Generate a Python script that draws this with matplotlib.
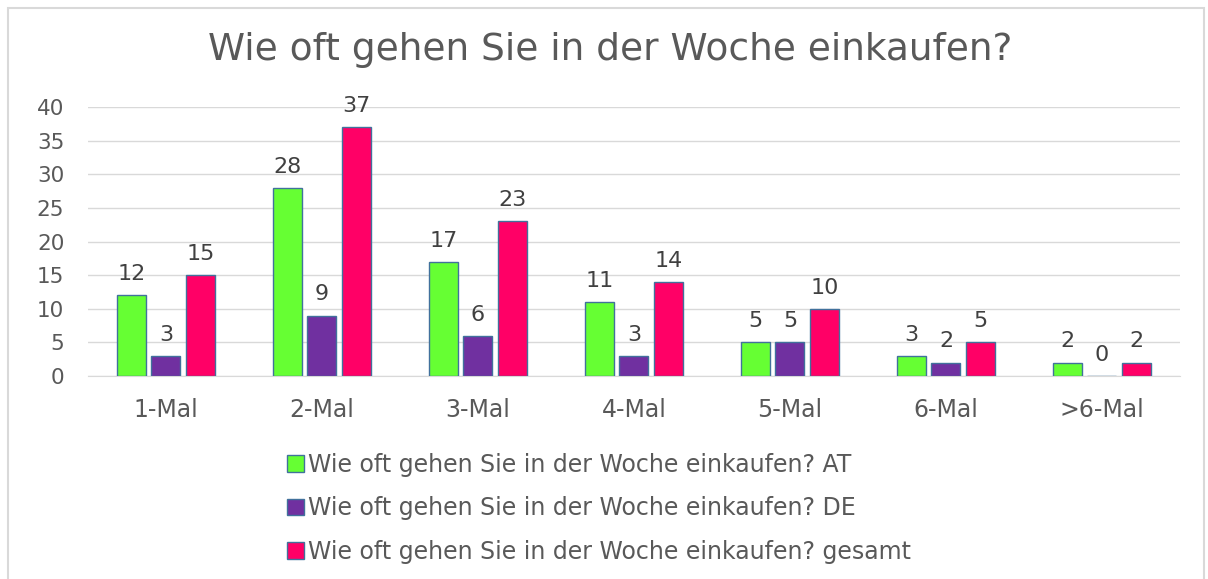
import matplotlib.pyplot as plt
import matplotlib.patches as mpatches
import numpy as np

plt.rcParams['font.family'] = ['DejaVu Sans']

kategorien = ['1-Mal', '2-Mal', '3-Mal', '4-Mal', '5-Mal', '6-Mal', '>6-Mal']
at = [12, 28, 17, 11, 5, 3, 2]
de = [3, 9, 6, 3, 5, 2, 0]
gesamt = [15, 37, 23, 14, 10, 5, 2]
serien = ['Wie oft gehen Sie in der Woche einkaufen? AT',
          'Wie oft gehen Sie in der Woche einkaufen? DE',
          'Wie oft gehen Sie in der Woche einkaufen? gesamt']
farben = ['#66FF33', '#7030A0', '#FF0066']

fig = plt.figure(figsize=(12.08, 5.79), dpi=100)
ax = fig.add_axes([0.0728, 0.3506, 0.904, 0.4644])

# grauer Rahmen
fig.patches.append(mpatches.Rectangle((0.007, -0.01), 0.99, 0.997, transform=fig.transFigure,
                                      fill=False, edgecolor='#D9D9D9', linewidth=1.5))

x = np.arange(len(kategorien))
b = 0.186
d = 0.222
for i, (werte, farbe, name) in enumerate(zip([at, de, gesamt], farben, serien)):
    pos = x + (i - 1) * d
    ax.bar(pos, werte, width=b, color=farbe, edgecolor='#41719C', linewidth=1, label=name, zorder=3)
    for xp, v in zip(pos, werte):
        ax.annotate(str(v), (xp, v), xytext=(0, 8), textcoords='offset points',
                    ha='center', va='bottom', fontsize=16, color='#404040')

ax.set_xlim(-0.5, len(kategorien) - 0.5)
ax.set_ylim(0, 40)
ax.set_yticks(range(0, 41, 5))
ax.set_xticks(x)
ax.set_xticklabels(kategorien)
ax.yaxis.grid(True, color='#D9D9D9', linewidth=1, zorder=0)
for s in ['top', 'right', 'left']:
    ax.spines[s].set_visible(False)
ax.spines['bottom'].set_color('#D9D9D9')
ax.tick_params(axis='both', length=0, labelcolor='#595959')
ax.tick_params(axis='x', pad=16, labelsize=17)
ax.tick_params(axis='y', pad=17, labelsize=15.5)

fig.text(0.505, 0.914, 'Wie oft gehen Sie in der Woche einkaufen?', ha='center', va='center',
         fontsize=27, color='#595959')

fig.legend(loc='upper left', bbox_to_anchor=(0.228, 0.238), frameon=False, fontsize=17,
           labelcolor='#595959', handlelength=0.7, handleheight=0.7, handletextpad=0.2,
           labelspacing=0.82, borderpad=0)

plt.savefig('out.png', dpi=100)
